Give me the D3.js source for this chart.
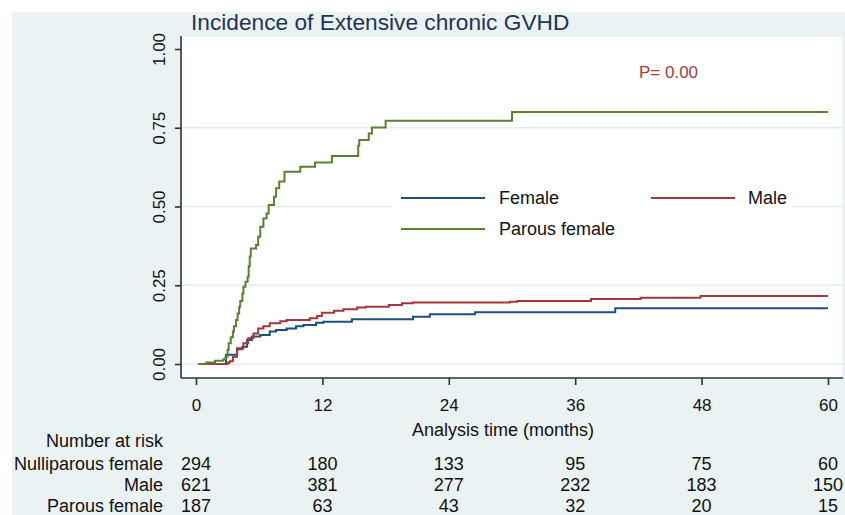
<!DOCTYPE html>
<html>
<head>
<meta charset="utf-8">
<script src="https://cdnjs.cloudflare.com/ajax/libs/d3/7.8.5/d3.min.js"></script>
<style>
  body { margin: 0; background: #fff; }
  text { font-family: Arial, 'Liberation Sans', sans-serif; }
</style>
</head>
<body>
<div id="chart"></div>
<script>
const xTicks = [0, 12, 24, 36, 48, 60];
const yTicks = [0, 0.25, 0.5, 0.75, 1];
const gridTicks = [0, 0.25, 0.5, 0.75];

// step points: time (months) and cumulative incidence
const femaleTime = [0.2, 2.85, 3.9, 4.4, 4.85, 5.3, 6.1, 7.0, 7.6, 8.6, 9.5, 10.2, 11.4, 12.1,
  14.8, 20.6, 22.2, 26.5, 39.8, 60];
const femaleInc = [0, 0.029, 0.047, 0.055, 0.076, 0.087, 0.092, 0.103, 0.108, 0.113, 0.12, 0.124,
  0.131, 0.134, 0.142, 0.15, 0.158, 0.164, 0.177, 0.177];
const maleTime = [0.2, 3.0, 3.2, 3.5, 3.9, 4.5, 4.95, 5.45, 5.9, 6.4, 7.0, 8.0, 8.6, 10.8, 11.5,
  11.95, 13.1, 14.0, 15.3, 16.1, 18.3, 19.55, 20.6, 29.8, 30.5, 37.5, 42.2, 47.9, 60];
const maleInc = [0, 0.004, 0.009, 0.023, 0.05, 0.066, 0.082, 0.097, 0.113, 0.12, 0.129, 0.136,
  0.14, 0.145, 0.152, 0.163, 0.169, 0.174, 0.179, 0.182, 0.187, 0.193, 0.195, 0.198, 0.2, 0.206,
  0.21, 0.216, 0.216];
const parousTime = [0.2, 1.0, 1.8, 2.6, 2.8, 3.0, 3.1, 3.3, 3.5, 3.6, 3.8, 3.95, 4.1, 4.2, 4.4,
  4.5, 4.7, 4.9, 5.0, 5.1, 5.2, 5.7, 5.9, 6.1, 6.4, 6.7, 6.9, 7.4, 7.6, 7.9, 8.4, 9.9, 11.3, 12.9,
  15.4, 15.5, 16.4, 16.7, 18.0, 30.0, 60];
const parousInc = [0, 0.005, 0.01, 0.015, 0.023, 0.045, 0.066, 0.085, 0.103, 0.12, 0.14, 0.16,
  0.182, 0.2, 0.224, 0.245, 0.261, 0.277, 0.31, 0.341, 0.367, 0.378, 0.404, 0.436, 0.462, 0.478,
  0.505, 0.531, 0.558, 0.579, 0.61, 0.626, 0.64, 0.66, 0.693, 0.711, 0.732, 0.751, 0.772, 0.8, 0.8];

const riskLabels = ['Nulliparous female', 'Male', 'Parous female'];
const riskNulliparous = [294, 180, 133, 95, 75, 60];
const riskMale = [621, 381, 277, 232, 183, 150];
const riskParous = [187, 63, 43, 32, 20, 15];

const legendNames = ['Female', 'Male', 'Parous female'];
const colors = ['#1f4f7e', '#a3363f', '#5a8033'];

const width = 845;
const height = 515;
const plot = {
  left: 181, right: 843, top: 36, bottom: 378,
};

const x = d3.scaleLinear().domain([0, 60]).range([196, 828]);
const y = d3.scaleLinear().domain([0, 1]).range([364, 49]);

const svg = d3.select('#chart').append('svg')
  .attr('width', width)
  .attr('height', height);

// graph region and plot region
svg.append('rect')
  .attr('x', 12).attr('y', 12)
  .attr('width', width - 12).attr('height', height - 12)
  .style('fill', '#eaf2f3');

svg.append('rect')
  .attr('x', plot.left).attr('y', plot.top)
  .attr('width', plot.right - plot.left).attr('height', plot.bottom - plot.top)
  .style('fill', '#fff')
  .style('stroke', '#e3ecee')
  .style('stroke-width', 1);

// grid lines
svg.selectAll('.grid')
  .data(gridTicks)
  .enter().append('line')
  .attr('class', 'grid')
  .attr('x1', plot.left)
  .attr('x2', plot.right)
  .attr('y1', d => y(d))
  .attr('y2', d => y(d))
  .style('stroke', '#e3ecee')
  .style('stroke-width', 1.5);

// y axis
const yAxis = svg.append('g')
  .attr('transform', `translate(${plot.left}, 0)`)
  .call(d3.axisLeft(y)
    .tickValues(yTicks)
    .tickSize(6)
    .tickPadding(0)
    .tickFormat(d3.format('.2f')));

yAxis.select('.domain')
  .attr('d', `M0,${plot.top}V${plot.bottom}`);

yAxis.selectAll('.tick text')
  .attr('x', 0)
  .attr('y', 0)
  .attr('dy', 0)
  .style('text-anchor', 'middle')
  .attr('transform', 'translate(-16, 0)rotate(-90)');

// x axis
const xAxis = svg.append('g')
  .attr('transform', `translate(0, ${plot.bottom})`)
  .call(d3.axisBottom(x)
    .tickValues(xTicks)
    .tickSize(7)
    .tickPadding(0)
    .tickFormat(d3.format('d')));

xAxis.select('.domain')
  .attr('d', `M${plot.left},0H${plot.right}`);

xAxis.selectAll('.tick text')
  .attr('y', 33)
  .attr('dy', 0);

svg.selectAll('.domain, .tick line')
  .style('stroke', '#333')
  .style('stroke-width', 1.6);

svg.selectAll('.tick text')
  .style('font-size', '17px')
  .style('fill', '#111');

svg.selectAll('.domain').style('fill', 'none');

// axis title
svg.append('text')
  .attr('x', 503)
  .attr('y', 436)
  .attr('text-anchor', 'middle')
  .style('font-size', '18px')
  .style('fill', '#111')
  .text('Analysis time (months)');

// title
svg.append('text')
  .attr('x', 191)
  .attr('y', 30)
  .style('font-size', '22.7px')
  .style('fill', '#1c3557')
  .text('Incidence of Extensive chronic GVHD');

// curves
const series = [
  { time: femaleTime, inc: femaleInc },
  { time: maleTime, inc: maleInc },
  { time: parousTime, inc: parousInc },
];

const line = d3.line()
  .x(d => x(d[0]))
  .y(d => y(d[1]))
  .curve(d3.curveStepAfter);

svg.selectAll('.curve')
  .data(series)
  .enter().append('path')
  .attr('class', 'curve')
  .attr('d', d => line(d.time.map((t, i) => [t, d.inc[i]])))
  .style('fill', 'none')
  .style('stroke', (d, i) => colors[i])
  .style('stroke-width', 2);

// p value
svg.append('text')
  .attr('x', 639)
  .attr('y', 78)
  .style('font-size', '17px')
  .style('fill', '#a23c3e')
  .text('P= 0.00');

// legend
svg.append('rect')
  .attr('x', 392).attr('y', 180)
  .attr('width', 401).attr('height', 64)
  .style('fill', '#fff');

const legendPos = [[401, 198], [651, 198], [401, 229]];

const legend = svg.selectAll('.legend')
  .data(legendNames)
  .enter().append('g')
  .attr('class', 'legend')
  .attr('transform', (d, i) => `translate(${legendPos[i][0]}, ${legendPos[i][1]})`);

legend.append('line')
  .attr('x1', 0)
  .attr('x2', 84)
  .style('stroke', (d, i) => colors[i])
  .style('stroke-width', 2);

legend.append('text')
  .attr('x', (d, i) => (i === 1 ? 97 : 98))
  .attr('y', 6)
  .style('font-size', '18px')
  .style('fill', '#111')
  .text(d => d);

// number at risk table
svg.append('text')
  .attr('x', 163)
  .attr('y', 447)
  .attr('text-anchor', 'end')
  .style('font-size', '18px')
  .style('fill', '#111')
  .text('Number at risk');

const riskRows = [riskNulliparous, riskMale, riskParous];

const rows = svg.selectAll('.riskRow')
  .data(riskRows)
  .enter().append('g')
  .attr('class', 'riskRow')
  .attr('transform', (d, i) => `translate(0, ${469.5 + i * 21})`);

rows.append('text')
  .attr('x', 163)
  .attr('text-anchor', 'end')
  .style('font-size', '18px')
  .style('fill', '#111')
  .text((d, i) => riskLabels[i]);

rows.selectAll('.count')
  .data(d => d)
  .enter().append('text')
  .attr('class', 'count')
  .attr('x', (d, i) => x(xTicks[i]))
  .attr('text-anchor', 'middle')
  .style('font-size', '18px')
  .style('fill', '#111')
  .text(d => d);
</script>
</body>
</html>
